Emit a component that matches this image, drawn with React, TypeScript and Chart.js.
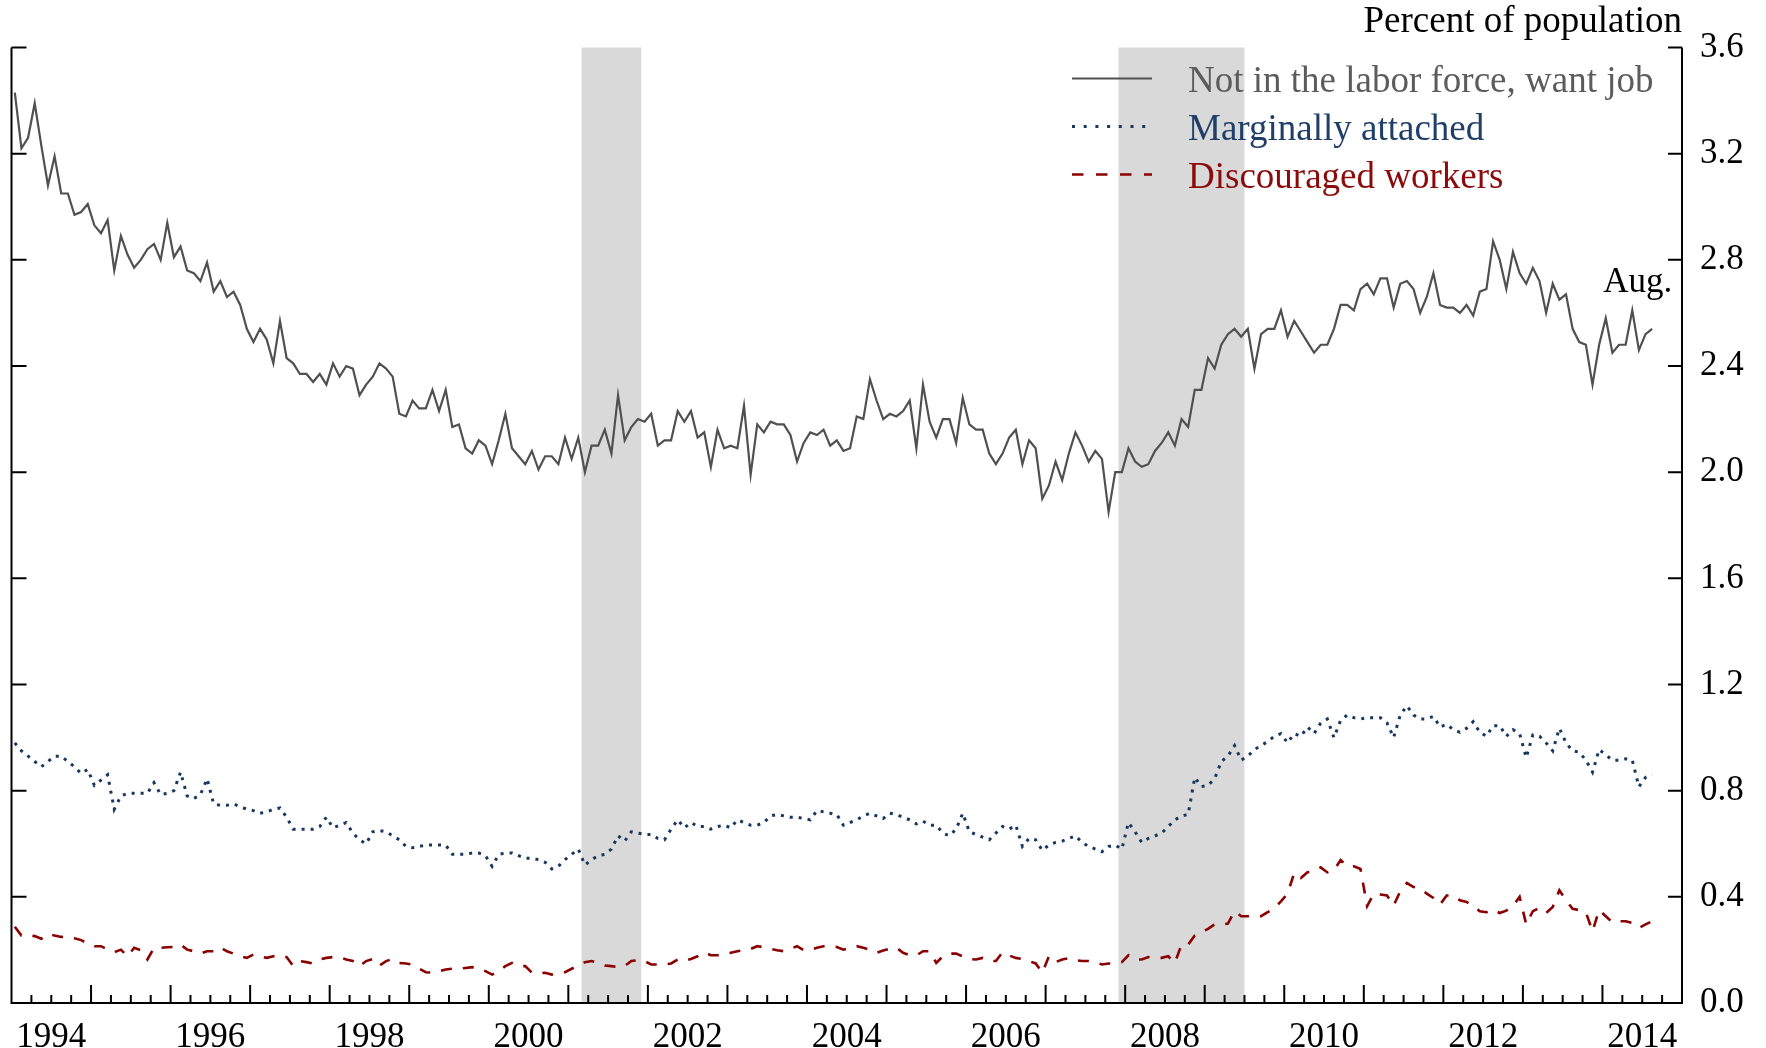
import React, { useEffect, useRef } from 'react';
import { Chart, registerables } from 'chart.js';

Chart.register(...registerables);

// ---- Data (monthly, Jan 1994 - Aug 2014), percent of population ----
const startYear = 1994;

const nilfWantJob = [
  3.43, 3.22, 3.26, 3.39, 3.23, 3.08, 3.19, 3.05, 3.05, 2.97, 2.98, 3.01,
  2.93, 2.90, 2.95, 2.76, 2.89, 2.82, 2.77, 2.80, 2.84, 2.86, 2.80, 2.94,
  2.81, 2.85, 2.76, 2.75, 2.72, 2.79, 2.68, 2.72, 2.66, 2.68, 2.63, 2.54,
  2.49, 2.54, 2.50, 2.41, 2.57, 2.43, 2.41, 2.37, 2.37, 2.34, 2.37, 2.33,
  2.41, 2.36, 2.40, 2.39, 2.29, 2.33, 2.36, 2.41, 2.39, 2.36, 2.22, 2.21,
  2.27, 2.24, 2.24, 2.31, 2.23, 2.31, 2.17, 2.18, 2.09, 2.07, 2.12, 2.10,
  2.03, 2.12, 2.22, 2.09, 2.06, 2.03, 2.08, 2.01, 2.06, 2.06, 2.03, 2.13,
  2.05, 2.13, 2.00, 2.10, 2.10, 2.16, 2.07, 2.29, 2.12, 2.17, 2.20, 2.19,
  2.22, 2.10, 2.12, 2.12, 2.23, 2.19, 2.23, 2.13, 2.15, 2.02, 2.16, 2.09,
  2.10, 2.09, 2.25, 1.99, 2.18, 2.15, 2.19, 2.18, 2.18, 2.14, 2.04, 2.11,
  2.15, 2.14, 2.16, 2.10, 2.12, 2.08, 2.09, 2.21, 2.20, 2.35, 2.27, 2.20,
  2.22, 2.21, 2.23, 2.27, 2.09, 2.33, 2.19, 2.13, 2.20, 2.20, 2.11, 2.28,
  2.18, 2.16, 2.16, 2.07, 2.03, 2.07, 2.13, 2.16, 2.03, 2.12, 2.09, 1.90,
  1.95, 2.04, 1.97, 2.07, 2.15, 2.10, 2.04, 2.08, 2.05, 1.85, 2.00, 2.00,
  2.09, 2.04, 2.02, 2.03, 2.08, 2.11, 2.15, 2.10, 2.20, 2.17, 2.31, 2.31,
  2.43, 2.39, 2.48, 2.52, 2.54, 2.51, 2.54, 2.39, 2.52, 2.54, 2.54, 2.61,
  2.51, 2.57, 2.53, 2.49, 2.45, 2.48, 2.48, 2.54, 2.63, 2.63, 2.61, 2.69,
  2.71, 2.67, 2.73, 2.73, 2.62, 2.71, 2.72, 2.69, 2.60, 2.66, 2.75, 2.63,
  2.62, 2.62, 2.60, 2.63, 2.59, 2.68, 2.69, 2.87, 2.80, 2.69, 2.83, 2.75,
  2.71, 2.77, 2.72, 2.60, 2.71, 2.65, 2.67, 2.54, 2.49, 2.48, 2.33, 2.48,
  2.58, 2.45, 2.48, 2.48, 2.61, 2.46, 2.52, 2.54,
];

const marginallyAttached = [
  0.98, 0.95, 0.93, 0.91, 0.89, 0.91, 0.93, 0.93, 0.91, 0.89, 0.865, 0.88,
  0.82, 0.84, 0.86, 0.73, 0.78, 0.79, 0.79, 0.79, 0.79, 0.83, 0.785, 0.79,
  0.80, 0.87, 0.78, 0.77, 0.785, 0.845, 0.75, 0.745, 0.745, 0.75, 0.74, 0.73,
  0.725, 0.715, 0.72, 0.73, 0.735, 0.70, 0.655, 0.655, 0.655, 0.655, 0.665, 0.70,
  0.66, 0.67, 0.68, 0.64, 0.615, 0.60, 0.645, 0.65, 0.645, 0.63, 0.615, 0.59,
  0.585, 0.59, 0.595, 0.595, 0.595, 0.595, 0.56, 0.56, 0.56, 0.565, 0.565, 0.555,
  0.515, 0.56, 0.565, 0.565, 0.555, 0.545, 0.545, 0.54, 0.53, 0.505, 0.515, 0.54,
  0.56, 0.58, 0.52, 0.54, 0.555, 0.56, 0.58, 0.63, 0.61, 0.645, 0.64, 0.635,
  0.635, 0.62, 0.615, 0.655, 0.69, 0.66, 0.68, 0.665, 0.665, 0.655, 0.665, 0.67,
  0.66, 0.69, 0.68, 0.67, 0.67, 0.68, 0.705, 0.71, 0.705, 0.70, 0.70, 0.695,
  0.69, 0.725, 0.72, 0.715, 0.71, 0.67, 0.68, 0.69, 0.705, 0.715, 0.705, 0.695,
  0.715, 0.71, 0.70, 0.69, 0.675, 0.685, 0.67, 0.67, 0.64, 0.63, 0.655, 0.715,
  0.645, 0.635, 0.625, 0.615, 0.64, 0.665, 0.655, 0.67, 0.59, 0.62, 0.615, 0.575,
  0.595, 0.605, 0.61, 0.62, 0.63, 0.605, 0.59, 0.58, 0.57, 0.59, 0.595, 0.58,
  0.68, 0.645, 0.605, 0.62, 0.63, 0.64, 0.665, 0.69, 0.705, 0.71, 0.85, 0.815,
  0.82, 0.845, 0.91, 0.93, 0.97, 0.915, 0.93, 0.955, 0.97, 0.985, 1.005, 1.015,
  0.98, 1.015, 1.005, 1.04, 1.015, 1.055, 1.07, 1.00, 1.065, 1.085, 1.075, 1.07,
  1.075, 1.075, 1.075, 1.055, 1.00, 1.085, 1.12, 1.085, 1.07, 1.07, 1.08, 1.04,
  1.05, 1.03, 1.02, 1.035, 1.06, 1.02, 1.005, 1.045, 1.045, 1.005, 1.03, 1.015,
  0.925, 1.01, 1.005, 0.98, 0.95, 1.035, 0.98, 0.95, 0.945, 0.915, 0.87, 0.955,
  0.935, 0.915, 0.915, 0.92, 0.915, 0.815, 0.85, 0.86,
];

const discouragedWorkers = [
  0.287, 0.254, 0.255, 0.252, 0.242, 0.26, 0.254, 0.249, 0.249, 0.244, 0.237, 0.224,
  0.214, 0.214, 0.201, 0.191, 0.201, 0.176, 0.208, 0.199, 0.164, 0.208, 0.208, 0.21,
  0.211, 0.22, 0.201, 0.195, 0.186, 0.195, 0.195, 0.21, 0.195, 0.186, 0.176, 0.17,
  0.183, 0.176, 0.17, 0.176, 0.18, 0.173, 0.139, 0.158, 0.154, 0.149, 0.164, 0.17,
  0.173, 0.173, 0.164, 0.158, 0.139, 0.158, 0.166, 0.141, 0.158, 0.166, 0.151, 0.149,
  0.145, 0.129, 0.116, 0.114, 0.12, 0.126, 0.129, 0.129, 0.132, 0.135, 0.131, 0.12,
  0.107, 0.12, 0.139, 0.151, 0.139, 0.139, 0.114, 0.111, 0.114, 0.107, 0.114, 0.116,
  0.129, 0.141, 0.154, 0.158, 0.151, 0.141, 0.139, 0.135, 0.139, 0.158, 0.161, 0.158,
  0.145, 0.145, 0.145, 0.149, 0.164, 0.158, 0.166, 0.176, 0.191, 0.18, 0.18, 0.182,
  0.189, 0.195, 0.199, 0.204, 0.214, 0.21, 0.204, 0.199, 0.195, 0.204, 0.214, 0.199,
  0.201, 0.208, 0.214, 0.214, 0.211, 0.201, 0.208, 0.214, 0.208, 0.201, 0.189, 0.198,
  0.205, 0.208, 0.189, 0.18, 0.179, 0.195, 0.195, 0.151, 0.176, 0.186, 0.186, 0.176,
  0.166, 0.164, 0.17, 0.158, 0.158, 0.191, 0.179, 0.17, 0.166, 0.158, 0.149, 0.114,
  0.176, 0.154, 0.164, 0.169, 0.161, 0.158, 0.158, 0.154, 0.145, 0.149, 0.149, 0.154,
  0.18, 0.164, 0.164, 0.173, 0.17, 0.17, 0.176, 0.151, 0.22, 0.22, 0.254, 0.267,
  0.279, 0.296, 0.296, 0.299, 0.346, 0.327, 0.327, 0.327, 0.327, 0.342, 0.358, 0.383,
  0.412, 0.49, 0.471, 0.493, 0.496, 0.511, 0.492, 0.50, 0.539, 0.515, 0.515, 0.505,
  0.365, 0.412, 0.409, 0.405, 0.367, 0.421, 0.452, 0.437, 0.431, 0.412, 0.396, 0.371,
  0.405, 0.405, 0.387, 0.381, 0.365, 0.346, 0.342, 0.352, 0.339, 0.348, 0.365, 0.40,
  0.296, 0.346, 0.358, 0.339, 0.362, 0.425, 0.387, 0.355, 0.35, 0.342, 0.27, 0.35,
  0.327, 0.304, 0.308, 0.308, 0.302, 0.283, 0.296, 0.308,
];

const seriesLabels = ['Not in the labor force, want job', 'Marginally attached', 'Discouraged workers'];
const xLabelYears = [1994, 1996, 1998, 2000, 2002, 2004, 2006, 2008, 2010, 2012, 2014];
const yTickValues = [0, 0.4, 0.8, 1.2, 1.6, 2.0, 2.4, 2.8, 3.2, 3.6];
const recessionStart = ['2001-03', '2007-12'];
const recessionEnd = ['2001-11', '2009-06'];
const unitTitle = 'Percent of population';
const lastMonthLabel = 'Aug.';

const xMin = 1994;
const xMax = 2015;

const FONT = "'Liberation Serif', 'Times New Roman', serif";
const colors = {
  nilf: '#505050',
  nilfText: '#5c5c5c',
  marginal: '#17375e',
  marginalText: '#1f3f69',
  discouraged: '#8b0000',
  discouragedText: '#8b0a0a',
  shade: '#d9d9d9',
};

const monthX = (i: number) => startYear + (i + 0.5) / 12;
const ymStart = (s: string) => {
  const [y, m] = s.split('-').map(Number);
  return y + (m - 1) / 12;
};
const ymEnd = (s: string) => {
  const [y, m] = s.split('-').map(Number);
  return y + m / 12;
};
const toPoints = (arr: number[]) => arr.map((v, i) => ({ x: monthX(i), y: v }));

const decorPlugin = {
  id: 'decor',
  beforeDatasetsDraw(chart: any) {
    const { ctx, chartArea: a, scales } = chart;
    const xs = scales.x;
    ctx.save();
    ctx.fillStyle = colors.shade;
    for (let k = 0; k < recessionStart.length; k++) {
      const x0 = xs.getPixelForValue(ymStart(recessionStart[k]));
      const x1 = xs.getPixelForValue(ymEnd(recessionEnd[k]));
      ctx.fillRect(x0, a.top, x1 - x0, a.bottom - a.top);
    }
    ctx.restore();
  },
  afterDatasetsDraw(chart: any) {
    const { ctx, chartArea: a, scales } = chart;
    const xs = scales.x;
    const ys = scales.y;
    ctx.save();
    ctx.strokeStyle = '#000';
    ctx.lineWidth = 2;
    ctx.setLineDash([]);
    ctx.lineCap = 'butt';
    // frame: left, bottom, right
    ctx.beginPath();
    ctx.moveTo(a.left, a.top);
    ctx.lineTo(a.left, a.bottom);
    ctx.lineTo(a.right, a.bottom);
    ctx.lineTo(a.right, a.top);
    ctx.stroke();
    // y ticks (inward, both sides)
    ctx.beginPath();
    for (const v of yTickValues) {
      if (v === 0) continue;
      const y = ys.getPixelForValue(v);
      ctx.moveTo(a.left, y);
      ctx.lineTo(a.left + 15, y);
      ctx.moveTo(a.right - 14, y);
      ctx.lineTo(a.right, y);
    }
    ctx.stroke();
    // x ticks: major at years, minor at quarters
    ctx.beginPath();
    for (let yr = xMin; yr < xMax; yr++) {
      for (let q = 0; q < 4; q++) {
        if (yr === xMin && q === 0) continue;
        const x = xs.getPixelForValue(yr + q / 4);
        const len = q === 0 ? 18 : 8;
        ctx.moveTo(x, a.bottom);
        ctx.lineTo(x, a.bottom - len);
      }
    }
    ctx.stroke();

    // unit title
    ctx.fillStyle = '#000';
    ctx.font = `37px ${FONT}`;
    ctx.textAlign = 'right';
    ctx.textBaseline = 'alphabetic';
    ctx.fillText(unitTitle, a.right, 32);

    // last month label
    const lastIdx = nilfWantJob.length - 1;
    const lx = xs.getPixelForValue(monthX(lastIdx));
    const ly = ys.getPixelForValue(nilfWantJob[lastIdx]);
    ctx.font = `35px ${FONT}`;
    ctx.textAlign = 'left';
    ctx.fillText(lastMonthLabel, lx - 49, ly - 37);

    // legend
    const sx0 = 1072;
    const sx1 = 1152;
    const tx = 1188;
    const rows = [
      { label: seriesLabels[0], color: colors.nilf, text: colors.nilfText, dash: [] as number[], w: 2.2 },
      { label: seriesLabels[1], color: colors.marginal, text: colors.marginalText, dash: [3, 8.7], w: 3 },
      { label: seriesLabels[2], color: colors.discouraged, text: colors.discouragedText, dash: [11.5, 12.5], w: 2.6 },
    ];
    const baselines = [92, 140, 188];
    rows.forEach((r, k) => {
      const yb = baselines[k];
      const ym = yb - 13.5;
      ctx.strokeStyle = r.color;
      ctx.lineWidth = r.w;
      ctx.setLineDash(r.dash);
      ctx.lineCap = 'butt';
      ctx.beginPath();
      ctx.moveTo(sx0, ym);
      ctx.lineTo(sx1, ym);
      ctx.stroke();
      ctx.setLineDash([]);
      ctx.fillStyle = r.text;
      ctx.font = `37px ${FONT}`;
      ctx.textAlign = 'left';
      ctx.fillText(r.label, tx, yb);
    });
    ctx.restore();
  },
};

export default function App() {
  const canvasRef = useRef<HTMLCanvasElement | null>(null);

  useEffect(() => {
    const canvas = canvasRef.current;
    if (!canvas) return;
    const chart = new Chart(canvas, {
      type: 'line',
      data: {
        datasets: [
          {
            label: seriesLabels[0],
            data: toPoints(nilfWantJob),
            borderColor: colors.nilf,
            borderWidth: 2.2,
            pointRadius: 0,
            tension: 0,
            fill: false,
          },
          {
            label: seriesLabels[1],
            data: toPoints(marginallyAttached),
            borderColor: colors.marginal,
            borderWidth: 3,
            borderDash: [3, 6],
            borderCapStyle: 'butt',
            pointRadius: 0,
            tension: 0,
            fill: false,
          },
          {
            label: seriesLabels[2],
            data: toPoints(discouragedWorkers),
            borderColor: colors.discouraged,
            borderWidth: 2.6,
            borderDash: [11, 11],
            borderCapStyle: 'butt',
            pointRadius: 0,
            tension: 0,
            fill: false,
          },
        ],
      },
      options: {
        animation: false,
        responsive: false,
        devicePixelRatio: 1,
        events: [],
        layout: { padding: { left: 11.5, top: 47.5, right: 0, bottom: 0 } },
        plugins: {
          legend: { display: false },
          tooltip: { enabled: false },
          title: { display: false },
        },
        scales: {
          x: {
            type: 'linear',
            min: xMin,
            max: xMax,
            grid: { display: false },
            border: { display: false },
            afterBuildTicks: (scale: any) => {
              scale.ticks = xLabelYears.map((y) => ({ value: y + 0.5 }));
            },
            afterFit: (scale: any) => {
              scale.height = 45;
            },
            ticks: {
              autoSkip: false,
              maxRotation: 0,
              minRotation: 0,
              padding: 6,
              color: '#000',
              font: { family: FONT, size: 35 },
              callback: (v: any) => String(Math.round(Number(v) - 0.5)),
            },
          },
          y: {
            type: 'linear',
            position: 'right',
            min: 0,
            max: 3.6,
            grid: { display: false },
            border: { display: false },
            afterBuildTicks: (scale: any) => {
              scale.ticks = yTickValues.map((v) => ({ value: v }));
            },
            afterFit: (scale: any) => {
              scale.width = 84;
            },
            ticks: {
              padding: 10,
              color: '#000',
              font: { family: FONT, size: 35 },
              callback: (v: any) => Number(v).toFixed(1),
            },
          },
        },
      },
      plugins: [decorPlugin],
    } as any);
    return () => chart.destroy();
  }, []);

  return (
    <div style={{ position: 'fixed', left: 0, top: 0, width: 1766, height: 1048, background: '#fff' }}>
      <canvas ref={canvasRef} width={1766} height={1048} style={{ width: 1766, height: 1048, display: 'block' }} />
    </div>
  );
}
